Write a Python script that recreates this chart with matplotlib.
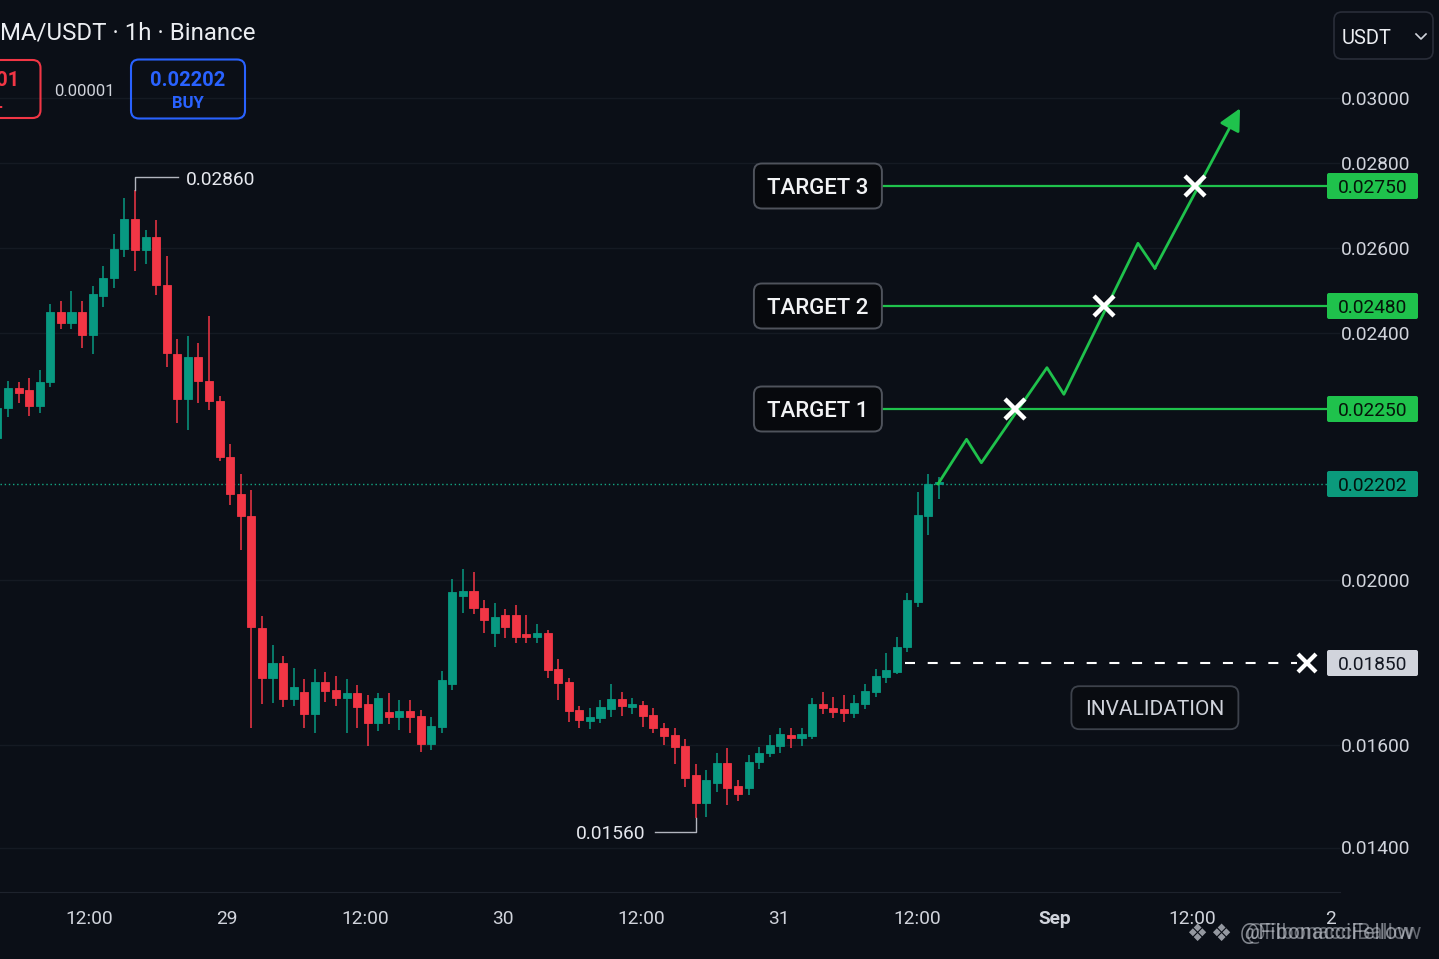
import numpy as np
import matplotlib
matplotlib.use("Agg")
import matplotlib.pyplot as plt
from matplotlib.patches import FancyBboxPatch
from matplotlib.ticker import NullLocator

# hourly candles, oldest first
OPEN = [
    0.022314, 0.02252, 0.02292, 0.02288, 0.02256, 0.02304, 0.02463, 0.02431, 0.02463, 0.02397,
    0.02501, 0.02538, 0.02599, 0.02671, 0.02597, 0.02628, 0.02524, 0.02359, 0.0227, 0.02353,
    0.02306, 0.02266, 0.022193, 0.02181, 0.02135, 0.01914, 0.01804, 0.0185, 0.0174, 0.01762,
    0.01695, 0.01792, 0.01768, 0.01743, 0.01759, 0.01725, 0.01667, 0.01701, 0.01685, 0.01704,
    0.01688, 0.01603, 0.01655, 0.01786, 0.01972, 0.01981, 0.0195, 0.01904, 0.01937, 0.01937,
    0.01903, 0.01897, 0.01904, 0.01832, 0.01792, 0.01707, 0.01673, 0.01682, 0.0171, 0.0174,
    0.01716, 0.01722, 0.01691, 0.01652, 0.0163, 0.01598, 0.01541, 0.01487, 0.01526, 0.01565,
    0.0152, 0.01516, 0.01567, 0.01584, 0.01598, 0.0163, 0.01621, 0.01627, 0.01725, 0.01713,
    0.0171, 0.01698, 0.01725, 0.01762, 0.01807, 0.01823, 0.01879, 0.01961, 0.02135, 0.02202,
]
HIGH = [
    0.02258, 0.02306, 0.02304, 0.02312, 0.02327, 0.02484, 0.0249, 0.02511, 0.0249, 0.02522,
    0.02563, 0.02635, 0.02721, 0.0274, 0.02644, 0.02668, 0.02584, 0.02389, 0.02395, 0.02381,
    0.02451, 0.02276, 0.022276, 0.022084, 0.02189, 0.01935, 0.01883, 0.01863, 0.01835, 0.01801,
    0.01832, 0.01823, 0.0181, 0.01801, 0.01783, 0.01752, 0.01759, 0.01759, 0.01737, 0.01737,
    0.01707, 0.01685, 0.01826, 0.02003, 0.02024, 0.02018, 0.01964, 0.01959, 0.01948, 0.01955,
    0.01937, 0.01921, 0.0191, 0.01857, 0.01804, 0.01719, 0.01713, 0.01737, 0.01786, 0.01762,
    0.01743, 0.01734, 0.01713, 0.01667, 0.01652, 0.01618, 0.01563, 0.01551, 0.01584, 0.01594,
    0.01532, 0.0158, 0.01596, 0.0163, 0.01652, 0.01652, 0.01652, 0.01743, 0.01762, 0.01746,
    0.01752, 0.01752, 0.01786, 0.01832, 0.01868, 0.01897, 0.01977, 0.02185, 0.022084, 0.022065,
]
LOW = [
    0.022302, 0.022449, 0.02262, 0.022455, 0.022474, 0.02294, 0.02413, 0.02413, 0.02371, 0.02359,
    0.02477, 0.02518, 0.02582, 0.02553, 0.02568, 0.02503, 0.02333, 0.02241, 0.022366, 0.02262,
    0.022494, 0.022167, 0.02158, 0.02064, 0.01652, 0.01725, 0.01728, 0.01716, 0.01719, 0.01652,
    0.01637, 0.01731, 0.01719, 0.01637, 0.01652, 0.01598, 0.01643, 0.01664, 0.01646, 0.01637,
    0.01586, 0.0159, 0.01637, 0.01768, 0.01941, 0.01939, 0.01904, 0.01879, 0.01895, 0.01886,
    0.01886, 0.01886, 0.01804, 0.01737, 0.0167, 0.01652, 0.01649, 0.01667, 0.01685, 0.01688,
    0.01695, 0.01655, 0.01637, 0.016, 0.01563, 0.01518, 0.01458, 0.0146, 0.01508, 0.01483,
    0.01491, 0.01502, 0.01553, 0.01577, 0.01584, 0.01594, 0.01598, 0.01618, 0.01695, 0.01682,
    0.0167, 0.01682, 0.0171, 0.01746, 0.01789, 0.01816, 0.0187, 0.01952, 0.02095, 0.02171,
]
CLOSE = [
    0.02252, 0.02292, 0.02282, 0.02256, 0.02304, 0.02463, 0.02431, 0.02463, 0.02397, 0.02505,
    0.02538, 0.02599, 0.02671, 0.02597, 0.02628, 0.02524, 0.02361, 0.0227, 0.02353, 0.02306,
    0.02266, 0.022193, 0.02181, 0.02135, 0.01915, 0.01804, 0.0185, 0.0174, 0.01777, 0.01695,
    0.01792, 0.01765, 0.01743, 0.01759, 0.01716, 0.01667, 0.01743, 0.01685, 0.01704, 0.01685,
    0.01603, 0.01658, 0.01798, 0.01979, 0.01981, 0.0195, 0.01928, 0.01934, 0.01915, 0.01897,
    0.01897, 0.01904, 0.01829, 0.01789, 0.01704, 0.01676, 0.01685, 0.01716, 0.0174, 0.01719,
    0.01725, 0.01688, 0.01652, 0.01627, 0.01596, 0.01536, 0.01487, 0.01532, 0.01565, 0.01516,
    0.01504, 0.01567, 0.01584, 0.016, 0.01634, 0.01621, 0.01634, 0.01725, 0.01713, 0.01701,
    0.01698, 0.01728, 0.01765, 0.0181, 0.01829, 0.01879, 0.01964, 0.02137, 0.02202, 0.02203,
]

TIME_LABELS = ["12:00", "29", "12:00", "30", "12:00", "31", "12:00", "Sep", "12:00", "2"]
PRICE_TICKS = [0.014, 0.016, 0.020, 0.024, 0.026, 0.028, 0.030]

LAST_PRICE = 0.02202
TARGETS = [0.0225, 0.0248, 0.0275]
TARGET_NAMES = ["TARGET 1", "TARGET 2", "TARGET 3"]
INVALIDATION = 0.0185
HIGH_LABEL = "0.02860"
LOW_LABEL = "0.01560"

# drawings (x in candle index, y in price)
PATH_X = [88.9, 91.6, 93.0, 99.2, 100.8, 107.8, 109.4, 117.45]
PATH_Y = [0.02202, 0.022306, 0.022156, 0.023321, 0.022792, 0.026125, 0.025587, 0.029675]
HIT_X = [96.2, 104.6, 113.2]
TARGET_LINE_START = 83.6
DASH_START, DASH_END = 85.8, 122.8
INVALID_X = 123.75
INVALID_BOX_X = 109.4

# the price axis of the picture is not linear: price -> screen row anchors
SCALE_PRICES = [0.0100, 0.0140, 0.0160, 0.0185, 0.0200, 0.02202, 0.0225,
                0.0240, 0.0248, 0.0260, 0.0275, 0.0280, 0.0300, 0.0360]
SCALE_ROWS = np.array([1052.5, 847.5, 745.0, 663.0, 580.4, 484.0, 409.0,
                       333.5, 306.0, 248.5, 186.0, 163.5, 97.6, -100.1])

BG = "#0b0f17"
GREEN = "#089981"
RED = "#f23645"
LIME = "#1fc24c"
BLUE = "#2962ff"
TEXT = "#d1d4dc"
W, H = 1439, 959


def forward(v):
    return -np.interp(v, SCALE_PRICES, SCALE_ROWS)


def inverse(v):
    return np.interp(v, -SCALE_ROWS, SCALE_PRICES)


plt.rcParams["font.family"] = ["Roboto", "DejaVu Sans"]
fig = plt.figure(figsize=(W / 100, H / 100), dpi=100, facecolor=BG)
pane_w, pane_h = 1340, 892
ax = fig.add_axes([0, (H - pane_h) / H, pane_w / W, pane_h / H])
ax.set_facecolor(BG)
ax.set_yscale("function", functions=(forward, inverse))
ax.set_xlim(2.58 / 10.58, (pane_w + 2.58) / 10.58)
ax.set_ylim(inverse(-pane_h), inverse(0))

# candles
idx = np.arange(len(OPEN))
o, hi, lo, c = (np.array(a) for a in (OPEN, HIGH, LOW, CLOSE))
cols = np.where(c >= o, GREEN, RED)
ax.vlines(idx, lo, hi, colors=cols, lw=1.1, zorder=3)
ax.bar(idx, np.abs(c - o), bottom=np.minimum(o, c), width=0.76,
       color=cols, edgecolor=cols, lw=0.6, zorder=4)

# axes styling
ax.yaxis.tick_right()
ax.set_yticks(PRICE_TICKS, [f"{p:.5f}" for p in PRICE_TICKS])
ax.yaxis.set_minor_locator(NullLocator())
ticks = [8.65 + 13.04 * k for k in range(len(TIME_LABELS))]
ax.set_xticks(ticks, TIME_LABELS)
ax.tick_params(axis="both", length=0, labelsize=13.8, labelcolor=TEXT)
ax.tick_params(axis="y", pad=0.8)
ax.tick_params(axis="x", pad=13)
ax.get_xticklabels()[TIME_LABELS.index("Sep")].set_fontweight("bold")
ax.grid(axis="y", color="#151a23", lw=1)
for side in ("top", "left", "right"):
    ax.spines[side].set_visible(False)
ax.spines["bottom"].set_color("#1e232d")

# current price, targets, projection
ax.axhline(LAST_PRICE, color="#14a884", lw=1, ls=(0, (1, 2)), zorder=2)
ax.hlines(TARGETS, TARGET_LINE_START, ax.get_xlim()[1], colors=LIME, lw=1.6, zorder=5)
ax.plot(PATH_X[:-1], PATH_Y[:-1], color=LIME, lw=2, zorder=6)
ax.annotate("", xy=(PATH_X[-1], PATH_Y[-1]), xytext=(PATH_X[-2], PATH_Y[-2]),
            arrowprops=dict(arrowstyle="-|>,head_length=0.6,head_width=0.3", color=LIME,
                            lw=2, shrinkA=0, shrinkB=0, mutation_scale=22), zorder=6)
ax.plot(HIT_X, TARGETS, ls="none", marker="x", ms=15, mew=3.2, color="white", zorder=7)
ax.hlines(INVALIDATION, DASH_START, DASH_END, colors="white", lw=1.5,
          linestyles=[(0, (4.8, 6.1))], zorder=5)
ax.plot([INVALID_X], [INVALIDATION], marker="x", ms=13, mew=3, color="white", zorder=7)

# overlay in pixel units for labels and chrome
ov = fig.add_axes([0, 0, 1, 1])
ov.set_xlim(0, W)
ov.set_ylim(H, 0)
ov.axis("off")
ov.patch.set_visible(False)


def px(x, y):
    dx, dy = ax.transData.transform((x, y))
    return dx, H - dy


def rbox(cx, cy, w, h, fc, ec, r=6, lw=1.2):
    ov.add_patch(FancyBboxPatch((cx - w / 2, cy - h / 2), w, h,
                                boxstyle=f"round,pad=0,rounding_size={r}",
                                fc=fc, ec=ec, lw=lw))


def label(x, y, s, **kw):
    # matplotlib centres the whole line box; nudge so the glyphs sit centred
    kw.setdefault("va", "center")
    return ov.text(x, y + 2, s, **kw)


# target labels
for price, name in zip(TARGETS, TARGET_NAMES):
    x0, row = px(TARGET_LINE_START, price)
    rbox(x0 - 64, row, 128, 45, "#07090d", "#4f535c", r=8, lw=1.4)
    label(x0 - 64, row + 1, name, color="#f2f3f5", fontsize=16, fontweight="medium",
          ha="center")

bx, brow = px(INVALID_BOX_X, INVALIDATION)
rbox(bx, brow + 44.7, 167, 43, "#090c11", "#3d424b", r=8, lw=1.3)
label(bx, brow + 45, "INVALIDATION", color=TEXT, fontsize=15, ha="center")

# price scale boxes
for price, fc, tc in [(TARGETS[2], LIME, "#06140a"), (TARGETS[1], LIME, "#06140a"),
                      (TARGETS[0], LIME, "#06140a"), (LAST_PRICE, "#0b9a7c", "#04120d"),
                      (INVALIDATION, "#d1d4dc", "#131722")]:
    _, row = px(0, price)
    ov.add_patch(FancyBboxPatch((1327, row - 13), 91, 26, boxstyle="round,pad=0,rounding_size=2",
                                fc=fc, ec="none"))
    label(1372.5, row, f"{price:.5f}", color=tc, fontsize=13.8, ha="center")

# high / low markers
hi_i = int(np.argmax(hi))
hx, hy = px(hi_i, hi[hi_i])
ov.plot([hx, hx, hx + 43], [hy, hy - 13, hy - 13], color="#b2b5be", lw=1)
label(hx + 51, hy - 12, HIGH_LABEL, color="#e6e8ee", fontsize=13.8, ha="left")
lo_i = int(np.argmin(lo))
lx, ly = px(lo_i, lo[lo_i])
ov.plot([lx, lx, lx - 41], [ly, ly + 14, ly + 14], color="#b2b5be", lw=1)
label(lx - 50, ly + 14, LOW_LABEL, color="#e6e8ee", fontsize=13.8, ha="right")

# header
label(0, 31, "MA/USDT · 1h · Binance", color="#eceef2", fontsize=17.3, ha="left")
rbox(-16, 89, 113, 58, "none", RED, r=8, lw=1.5)
label(-18, 79, "0.02201", color=RED, fontsize=14.5, fontweight="bold", ha="center")
label(-16, 102, "SELL", color=RED, fontsize=12, fontweight="bold", ha="center")
label(84.5, 89, "0.00001", color=TEXT, fontsize=12, ha="center")
rbox(188, 89, 114, 59, "none", BLUE, r=8, lw=1.5)
label(188, 78, "0.02202", color=BLUE, fontsize=14.5, fontweight="bold", ha="center")
label(188, 101, "BUY", color=BLUE, fontsize=12, fontweight="bold", ha="center")

# currency selector
rbox(1383.5, 35.5, 99, 47, "none", "#2a2e39", r=8, lw=1.2)
label(1341.5, 36, "USDT", color="#eceef2", fontsize=14.5, ha="left")
ov.plot([1416, 1421, 1426], [34, 39, 34], color=TEXT, lw=1.2)

# watermark
for wx in (1197, 1221):
    label(wx, 932, "❖", color="#d0d4dc", alpha=0.7, fontsize=17, family=["DejaVu Sans"],
          ha="center")
label(1240, 932, "@FibonacciFellow", color="#d0d4dc", alpha=0.6, fontsize=15.5, ha="left")
label(1246, 932, "@FibonacciBallow", color="#d0d4dc", alpha=0.45, fontsize=15.5, ha="left")

fig.savefig("out.png", dpi=100, facecolor=BG)
